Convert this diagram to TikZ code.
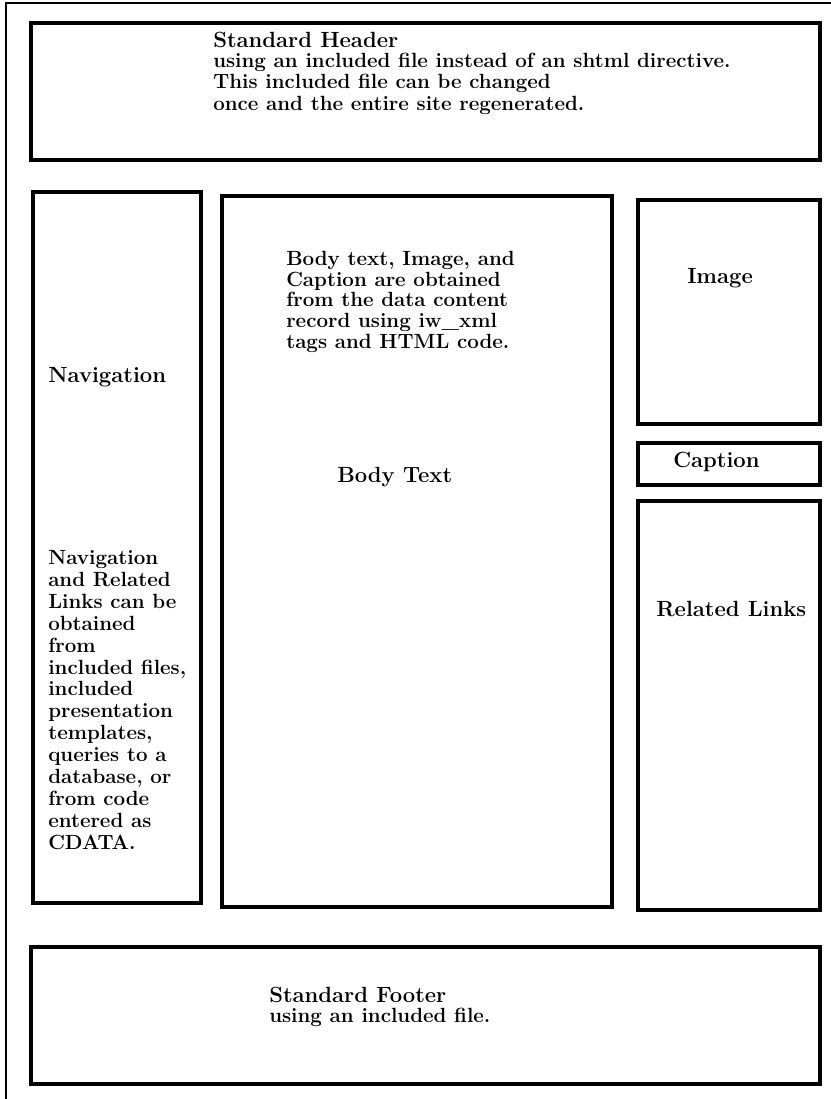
\documentclass[tikz,border=0pt]{standalone}
\tikzset{
  px/.style={x=0.75pt,y=-0.75pt},
  frame/.style={draw=black,line width=1.8pt},
  box/.style={draw=black,line width=2.4pt},
  title/.style={anchor=base west,inner sep=0pt,font=\fontsize{16.5}{19.8}\selectfont\bfseries},
  % multi-line notes sit on the baseline of their last line
  note/.style={anchor=base west,inner sep=0pt,align=left,
    font=\fontsize{15.4}{#1}\selectfont\bfseries},
  note/.default=16pt
}
\begin{document}
\begin{tikzpicture}[px]
  \useasboundingbox (0,0) rectangle (831,1099);
  \clip (0,0) rectangle (831,1099);
  \draw[frame] (6,3) rectangle (860,1130);

  % header
  \draw[box] (31,23) rectangle (820,160);
  \node[title] (hdrtitle) at (213,48) {Standard Header};
  \node[note=16.1pt] (hdrtext) at (213,110) {using an included file instead of an shtml directive.\\
    This included file can be changed\\once and the entire site regenerated.};

  % left column
  \draw[box] (33,192) rectangle (201,903);
  \node[title] (navtitle) at (48,382) {Navigation};
  \node[note=16.4pt] (navtext) at (48,849) {Navigation\\and Related\\Links can be\\obtained\\from\\
    included files,\\included\\presentation\\templates,\\queries to a\\database, or\\from code\\
    entered as\\CDATA.};

  % middle column
  \draw[box] (222,196) rectangle (612,907);
  \node[note=15.4pt] (bodytext) at (286,348) {Body text, Image, and\\Caption are obtained\\
    from the data content\\record using iw\_xml\\tags and HTML code.};
  \node[title] (bodytitle) at (337,482) {Body Text};

  % right column
  \draw[box] (638,200) rectangle (820,424);
  \node[title] (imgtitle) at (687,283) {Image};
  \draw[box] (638,443) rectangle (820,485);
  \node[title] (captitle) at (673,467) {Caption};
  \draw[box] (638,501) rectangle (820,910);
  \node[title] (linktitle) at (656,616) {Related Links};

  % footer
  \draw[box] (31,947) rectangle (820,1084);
  \node[title] (ftrtitle) at (269,1002) {Standard Footer};
  \node[note=15pt] (ftrtext) at (269,1022) {using an included file.};
\end{tikzpicture}
\end{document}
